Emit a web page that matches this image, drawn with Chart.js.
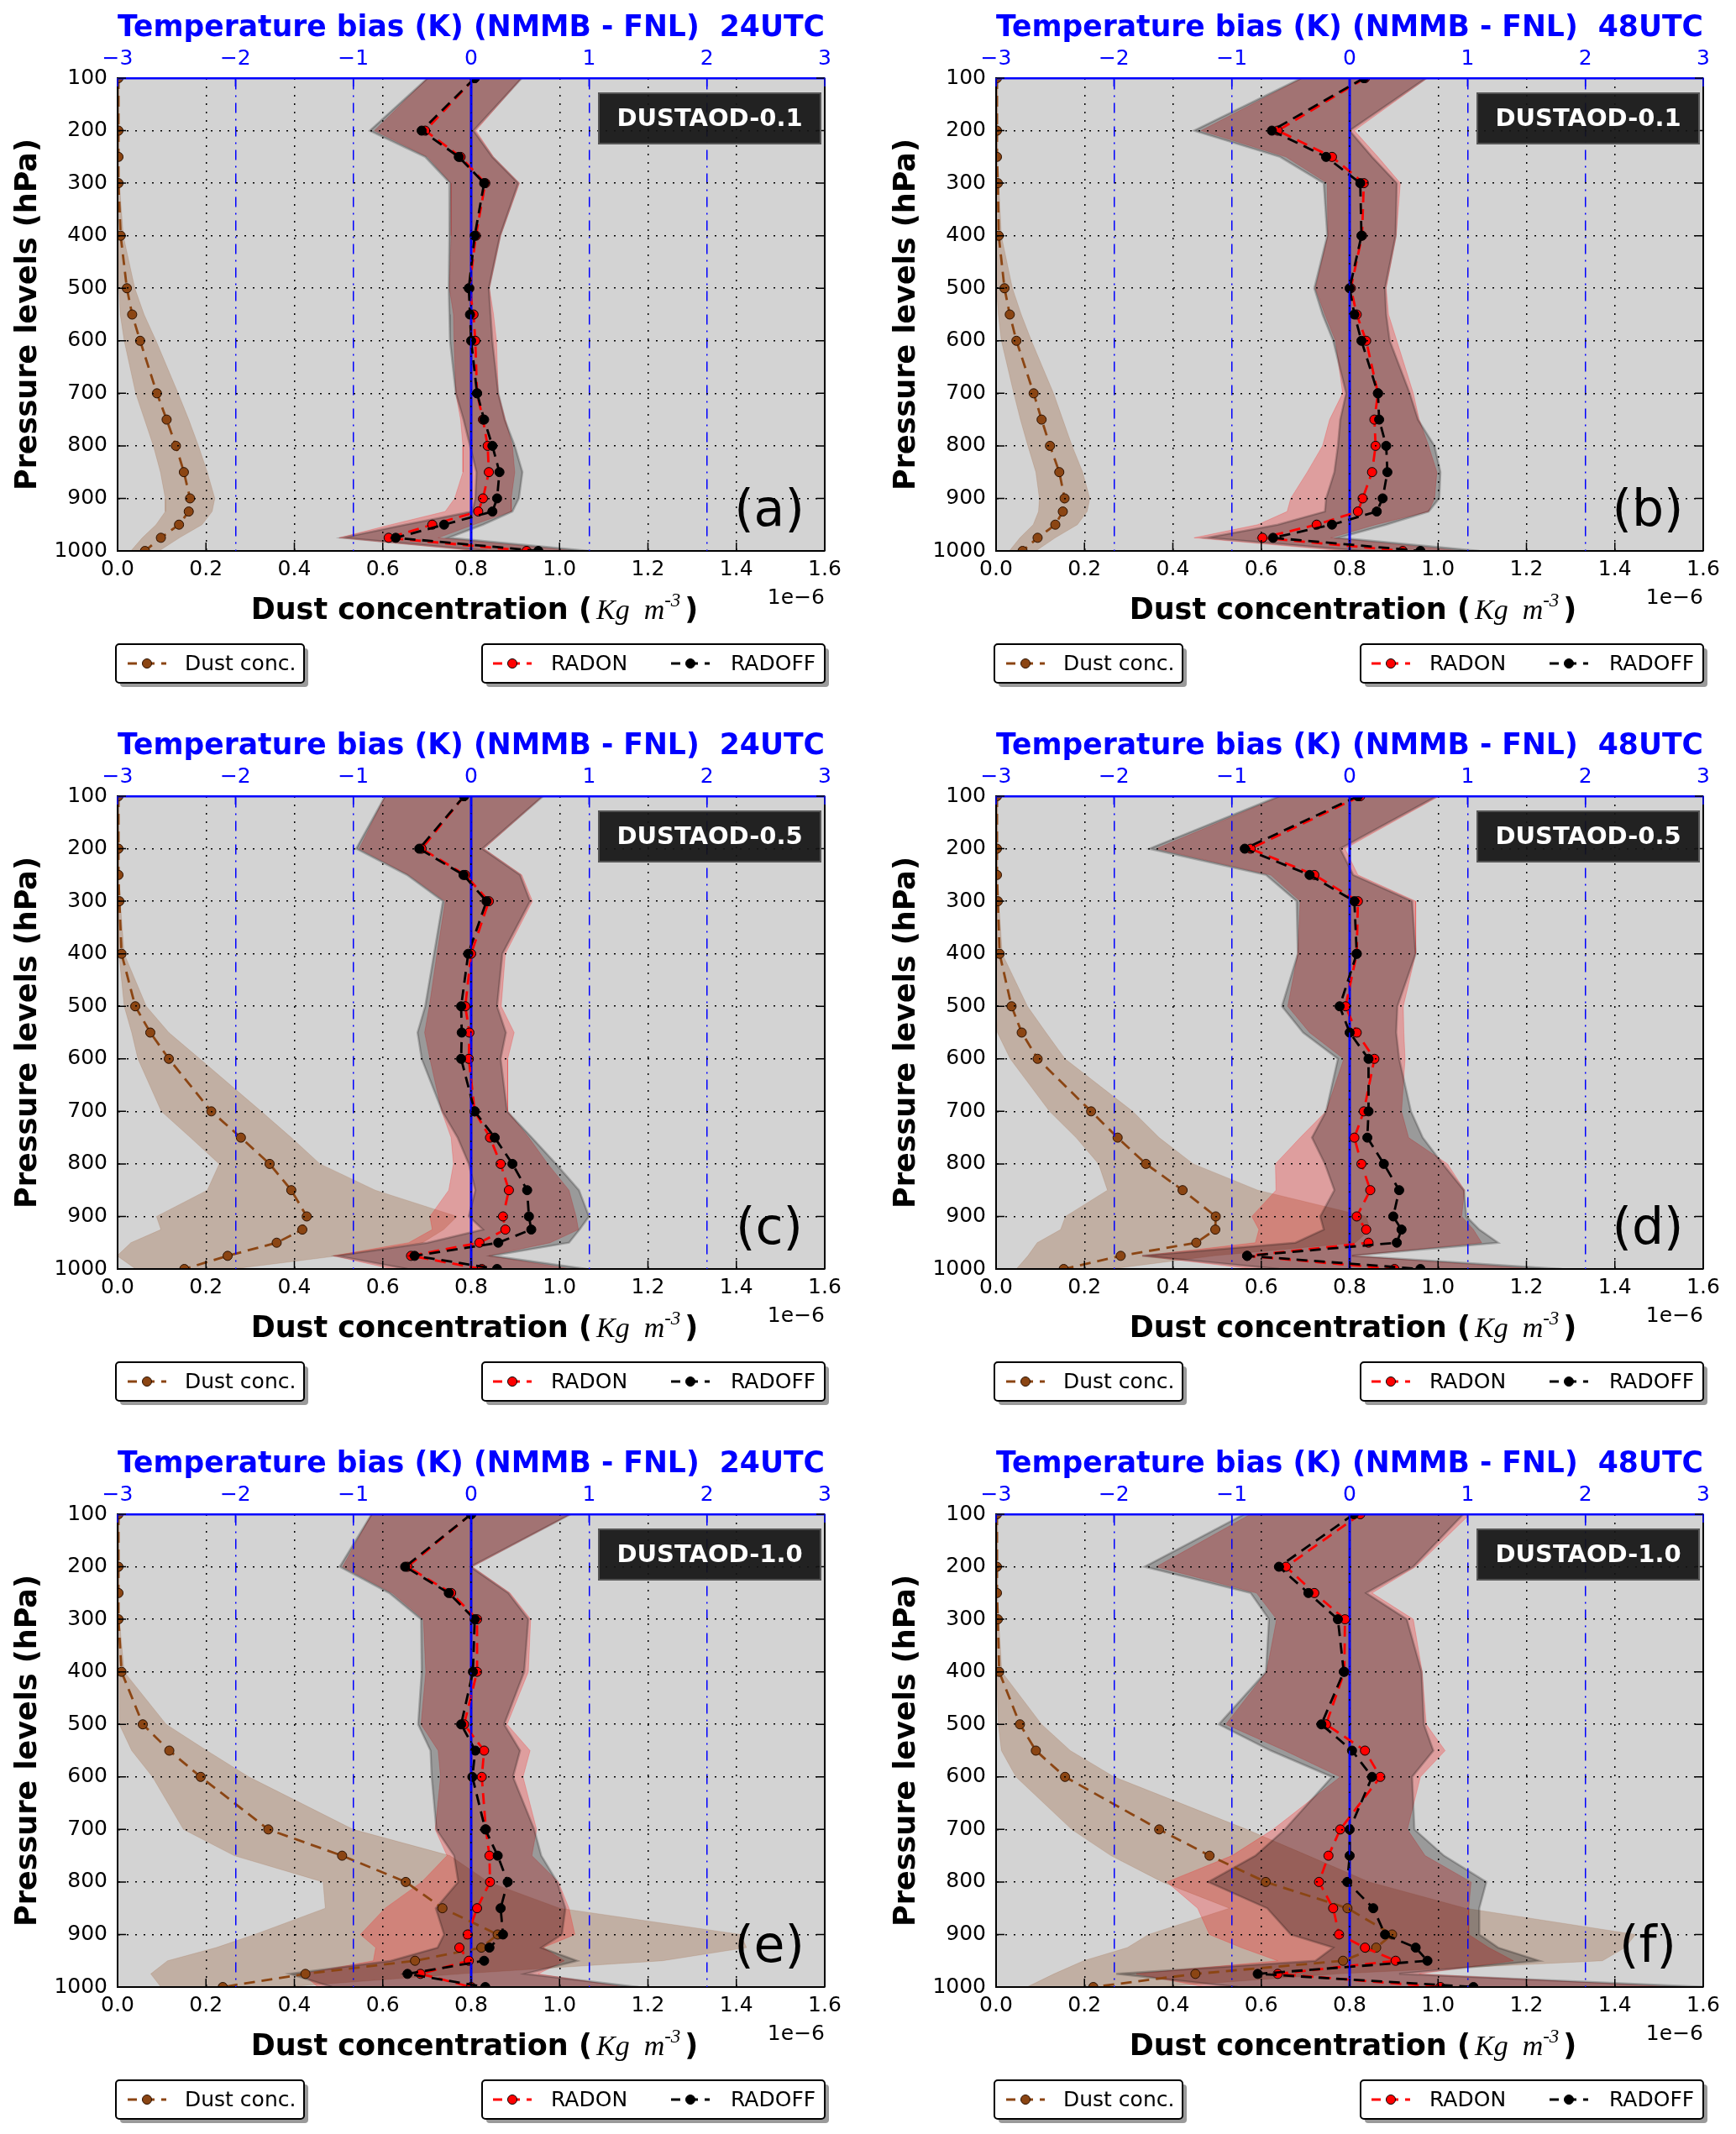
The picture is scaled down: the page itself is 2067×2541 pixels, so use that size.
<!DOCTYPE html>
<html>
<head>
<meta charset="utf-8">
<title>Temperature bias and dust concentration profiles</title>
<script src="https://cdn.jsdelivr.net/npm/chart.js@4.4.0/dist/chart.umd.min.js"></script>
<style>
  html, body { margin: 0; padding: 0; background: #fff; }
  #fig { position: relative; width: 2067px; height: 2541px; overflow: hidden; background: #fff; }
  #fig canvas { position: absolute; }
</style>
</head>
<body>
<div id="fig"></div>
<script>
// pressure levels (hPa), shared by every panel
const levels = [100, 200, 250, 300, 400, 500, 550, 600, 700, 750, 800, 850, 900, 925, 950, 975, 1000];

// dust concentration, in units of 1e-6 Kg m-3 (mean and spread)
const dustA   = [0.002,0.002,0.002,0.002,0.007,0.021,0.033,0.051,0.089,0.111,0.132,0.150,0.164,0.161,0.139,0.098,0.062];
const dustSdA = [0.001,0.001,0.001,0.002,0.006,0.018,0.027,0.036,0.048,0.050,0.051,0.053,0.056,0.053,0.052,0.042,0.032];
const dustB   = [0.002,0.002,0.002,0.004,0.006,0.019,0.031,0.046,0.085,0.103,0.122,0.143,0.155,0.151,0.134,0.094,0.060];
const dustSdB = [0.001,0.001,0.001,0.002,0.006,0.018,0.026,0.034,0.045,0.048,0.050,0.053,0.057,0.055,0.050,0.040,0.030];
const dustC   = [0.002,0.002,0.002,0.004,0.009,0.040,0.074,0.116,0.212,0.279,0.344,0.393,0.428,0.418,0.360,0.249,0.151];
const dustSdC = [0.001,0.001,0.001,0.002,0.006,0.025,0.042,0.070,0.113,0.114,0.114,0.190,0.340,0.320,0.330,0.250,0.110];
const dustD   = [0.002,0.002,0.002,0.004,0.008,0.035,0.058,0.094,0.215,0.275,0.339,0.422,0.497,0.496,0.453,0.282,0.153];
const dustSdD = [0.001,0.001,0.001,0.002,0.006,0.036,0.055,0.062,0.094,0.094,0.107,0.170,0.340,0.350,0.360,0.210,0.107];
const dustE   = [0.002,0.002,0.002,0.002,0.009,0.057,0.117,0.188,0.341,0.508,0.652,0.735,0.860,0.823,0.673,0.425,0.238];
const dustSdE = [0.001,0.001,0.001,0.002,0.006,0.053,0.085,0.109,0.192,0.244,0.187,0.265,0.550,0.600,0.560,0.350,0.140];
const dustF   = [0.002,0.002,0.002,0.004,0.007,0.054,0.090,0.156,0.369,0.483,0.610,0.795,0.896,0.860,0.785,0.451,0.220];
const dustSdF = [0.001,0.001,0.001,0.002,0.006,0.049,0.078,0.111,0.198,0.223,0.234,0.267,0.551,0.563,0.587,0.320,0.150];

// temperature bias (K), NMMB - FNL, with radiation (RADON) and without (RADOFF)
const radonA    = [0.03,-0.39,-0.09,0.12,0.04,-0.015,0.02,0.035,0.05,0.10,0.14,0.15,0.10,0.06,-0.33,-0.70,0.47];
const radonSdA  = [0.40,0.43,0.28,0.29,0.21,0.17,0.17,0.18,0.18,0.19,0.21,0.22,0.24,0.28,0.35,0.42,0.42];
const radoffA   = [0.03,-0.42,-0.105,0.11,0.03,-0.02,-0.01,0.0,0.05,0.11,0.18,0.24,0.22,0.18,-0.23,-0.64,0.57];
const radoffSdA = [0.40,0.44,0.285,0.29,0.215,0.17,0.175,0.18,0.18,0.175,0.19,0.195,0.185,0.17,0.33,0.45,0.43];

const radonB    = [0.13,-0.61,-0.15,0.12,0.105,0.01,0.06,0.14,0.24,0.21,0.22,0.19,0.11,0.07,-0.28,-0.74,0.45];
const radonSdB  = [0.53,0.65,0.39,0.31,0.29,0.30,0.27,0.26,0.30,0.38,0.45,0.55,0.61,0.60,0.50,0.58,0.50];
const radoffB   = [0.12,-0.66,-0.20,0.09,0.10,0.0,0.04,0.10,0.24,0.25,0.31,0.32,0.28,0.23,-0.15,-0.65,0.60];
const radoffSdB = [0.53,0.66,0.39,0.31,0.29,0.30,0.27,0.24,0.27,0.33,0.41,0.45,0.48,0.44,0.46,0.56,0.50];

const radonC    = [-0.06,-0.42,-0.05,0.15,0.0,-0.05,-0.015,-0.02,0.03,0.16,0.25,0.32,0.27,0.29,0.07,-0.51,0.09];
const radonSdC  = [0.67,0.53,0.48,0.37,0.29,0.305,0.38,0.33,0.28,0.33,0.40,0.51,0.62,0.62,0.60,0.66,0.76];
const radoffC   = [-0.06,-0.44,-0.065,0.13,-0.025,-0.085,-0.08,-0.085,0.03,0.20,0.35,0.475,0.49,0.51,0.23,-0.48,0.22];
const radoffSdC = [0.67,0.535,0.48,0.37,0.29,0.305,0.375,0.335,0.275,0.315,0.37,0.44,0.51,0.41,0.60,0.66,0.76];

const radonD    = [0.09,-0.84,-0.30,0.07,0.06,-0.035,0.06,0.21,0.12,0.04,0.10,0.175,0.06,0.14,0.16,-0.87,0.38];
const radonSdD  = [0.67,0.80,0.37,0.49,0.50,0.49,0.40,0.26,0.32,0.46,0.73,0.80,0.89,0.91,0.96,0.89,1.20];
const radoffD   = [0.07,-0.89,-0.34,0.04,0.06,-0.085,0.0,0.16,0.16,0.15,0.29,0.42,0.37,0.44,0.40,-0.87,0.60];
const radoffSdD = [0.67,0.81,0.37,0.49,0.50,0.49,0.395,0.26,0.36,0.47,0.50,0.55,0.62,0.66,0.86,0.89,1.20];

const radonE    = [0.0,-0.54,-0.17,0.05,0.05,-0.06,0.11,0.09,0.125,0.155,0.16,0.05,-0.03,-0.10,-0.02,-0.43,0.0];
const radonSdE  = [0.845,0.55,0.50,0.455,0.435,0.365,0.39,0.35,0.43,0.36,0.58,0.78,0.91,0.71,0.81,1.00,1.30];
const radoffE   = [0.0,-0.56,-0.19,0.03,0.015,-0.085,0.035,0.01,0.12,0.225,0.31,0.25,0.27,0.155,0.11,-0.54,0.12];
const radoffSdE = [0.845,0.555,0.505,0.455,0.435,0.365,0.38,0.345,0.415,0.37,0.42,0.55,0.50,0.44,0.79,1.00,1.30];

const radonF    = [0.09,-0.54,-0.30,-0.04,-0.045,-0.20,0.13,0.26,-0.08,-0.18,-0.26,-0.14,-0.09,0.13,0.39,-0.61,0.77];
const radonSdF  = [0.93,1.10,0.49,0.58,0.66,0.85,0.68,0.34,0.57,0.82,1.29,1.15,1.10,1.05,1.00,1.20,2.00];
const radoffF   = [0.035,-0.60,-0.35,-0.10,-0.05,-0.24,0.02,0.19,0.0,0.0,-0.02,0.20,0.30,0.56,0.66,-0.78,1.05];
const radoffSdF = [0.93,1.14,0.49,0.585,0.66,0.87,0.69,0.34,0.55,0.80,1.18,0.90,0.80,0.70,0.95,1.20,2.00];

const zeroBias = 0;
const hours = ['24UTC', '48UTC'];
const aodLabels = ['DUSTAOD-0.1', 'DUSTAOD-0.5', 'DUSTAOD-1.0'];
const panelTags = ['(a)', '(b)', '(c)', '(d)', '(e)', '(f)'];

const panels = [
  {dust: dustA, dustSd: dustSdA, on: radonA, onSd: radonSdA, off: radoffA, offSd: radoffSdA},
  {dust: dustB, dustSd: dustSdB, on: radonB, onSd: radonSdB, off: radoffB, offSd: radoffSdB},
  {dust: dustC, dustSd: dustSdC, on: radonC, onSd: radonSdC, off: radoffC, offSd: radoffSdC},
  {dust: dustD, dustSd: dustSdD, on: radonD, onSd: radonSdD, off: radoffD, offSd: radoffSdD},
  {dust: dustE, dustSd: dustSdE, on: radonE, onSd: radonSdE, off: radoffE, offSd: radoffSdE},
  {dust: dustF, dustSd: dustSdF, on: radonF, onSd: radonSdF, off: radoffF, offSd: radoffSdF}
];

// page layout
const COL_X = [0, 1046], COL_W = [1046, 1021];
const ROW_Y = [0, 855, 1710], ROW_H = [855, 855, 831];
const AREA = {left: 140, top: 93, right: 982, bottom: 656};

Chart.defaults.font.family = "'DejaVu Sans', sans-serif";
Chart.defaults.color = '#000';

const FONT = "'DejaVu Sans'";

function profile(vals) {
  return vals.map((v, i) => ({x: v, y: levels[i]}));
}
function edgeOf(vals, sd, sign) {
  return vals.map((v, i) => ({x: v + sign * sd[i], y: levels[i]}));
}
const atEnds = (c, a, b) => c.tick && (Math.abs(c.tick.value - a) < 1e-9 || Math.abs(c.tick.value - b) < 1e-9);

function drawSample(ctx, ds, x1, x2, y) {
  ctx.save();
  ctx.strokeStyle = ds.borderColor;
  ctx.lineWidth = ds.borderWidth;
  ctx.setLineDash(ds.borderDash);
  ctx.lineDashOffset = 2;
  ctx.beginPath(); ctx.moveTo(x1, y); ctx.lineTo(x2, y); ctx.stroke();
  ctx.setLineDash([]);
  ctx.beginPath();
  ctx.arc((x1 + x2) / 2, y, ds.pointRadius, 0, Math.PI * 2);
  ctx.fillStyle = ds.pointBackgroundColor; ctx.fill();
  ctx.lineWidth = ds.pointBorderWidth; ctx.strokeStyle = ds.pointBorderColor; ctx.stroke();
  ctx.restore();
}

function legendBox(ctx, x, y, w, h) {
  ctx.save();
  ctx.fillStyle = '#9a9a9a';
  ctx.beginPath(); ctx.roundRect(x + 5, y + 5, w, h, 4); ctx.fill();
  ctx.fillStyle = '#fff';
  ctx.strokeStyle = '#000';
  ctx.lineWidth = 2;
  ctx.beginPath(); ctx.roundRect(x, y, w, h, 4); ctx.fill(); ctx.stroke();
  ctx.restore();
}

function decor(idx) {
  return {
    id: 'decor',
    beforeDraw(chart) {
      const {ctx, chartArea: a} = chart;
      ctx.save();
      ctx.fillStyle = '#d3d3d3';
      ctx.fillRect(a.left, a.top, a.right - a.left, a.bottom - a.top);
      ctx.restore();
    },
    afterDraw(chart) {
      const {ctx, chartArea: a, scales} = chart;
      const sets = chart.data.datasets;
      ctx.save();
      // right spine
      ctx.strokeStyle = '#000'; ctx.lineWidth = 2;
      ctx.beginPath(); ctx.moveTo(a.right, a.top); ctx.lineTo(a.right, a.bottom); ctx.stroke();
      // inward ticks
      ctx.lineWidth = 1.5;
      ctx.beginPath();
      scales.x.ticks.forEach(t => {
        const px = scales.x.getPixelForValue(t.value);
        ctx.moveTo(px, a.bottom); ctx.lineTo(px, a.bottom - 10);
      });
      scales.y.ticks.forEach(t => {
        const py = scales.y.getPixelForValue(t.value);
        ctx.moveTo(a.left, py); ctx.lineTo(a.left + 10, py);
        ctx.moveTo(a.right, py); ctx.lineTo(a.right - 10, py);
      });
      ctx.stroke();
      ctx.strokeStyle = '#0000ff';
      ctx.beginPath();
      scales.xT.ticks.forEach(t => {
        const px = scales.xT.getPixelForValue(t.value);
        ctx.moveTo(px, a.top); ctx.lineTo(px, a.top + 10);
      });
      ctx.stroke();

      // offset text of the dust axis
      ctx.fillStyle = '#000';
      ctx.font = '25px ' + FONT;
      ctx.textAlign = 'right'; ctx.textBaseline = 'middle';
      ctx.fillText('1e\u22126', a.right, a.bottom + 56);

      // bottom axis title, mixed styles
      const parts = [
        {t: 'Dust concentration (', f: 'bold 35px ' + FONT, dy: 0},
        {t: 'Kg  m', f: "italic 34px 'Liberation Serif'", dy: 0},
        {t: '-3', f: "italic 23px 'Liberation Serif'", dy: -15},
        {t: ')', f: 'bold 35px ' + FONT, dy: 0}
      ];
      let total = 0;
      parts.forEach(p => { ctx.font = p.f; p.w = ctx.measureText(p.t).width; total += p.w; });
      total += 10;
      let x = (a.left + a.right) / 2 + 4 - total / 2;
      const base = a.bottom + 81;
      ctx.textAlign = 'left'; ctx.textBaseline = 'alphabetic';
      parts.forEach((p, i) => {
        ctx.font = p.f;
        ctx.fillText(p.t, x, base + p.dy);
        x += p.w + (i === 0 ? 5 : i === 2 ? 5 : 0);
      });

      // panel tag
      ctx.font = '60px ' + FONT;
      ctx.textAlign = 'center';
      ctx.fillText(panelTags[idx], a.left + 776, a.top + 533);

      // AOD label box
      ctx.fillStyle = 'rgba(20,20,20,0.93)';
      ctx.strokeStyle = '#555';
      ctx.lineWidth = 2;
      ctx.beginPath(); ctx.rect(a.left + 573, a.top + 18, 264, 60); ctx.fill(); ctx.stroke();
      ctx.fillStyle = '#fff';
      ctx.font = 'bold 29px ' + FONT;
      ctx.textBaseline = 'middle';
      ctx.fillText(aodLabels[Math.floor(idx / 2)], a.left + 705, a.top + 49);

      // legends
      const ly = a.bottom + 111, lh = 46, cy = ly + lh / 2;
      legendBox(ctx, a.left - 2, ly, 224, lh);
      legendBox(ctx, a.left + 434, ly, a.right - a.left - 434, lh);
      drawSample(ctx, sets[7], a.left + 12, a.left + 58, cy);
      drawSample(ctx, sets[8], a.left + 447, a.left + 493, cy);
      drawSample(ctx, sets[9], a.left + 659, a.left + 705, cy);
      ctx.fillStyle = '#000';
      ctx.font = '25px ' + FONT;
      ctx.textAlign = 'left'; ctx.textBaseline = 'middle';
      ctx.fillText(sets[7].label, a.left + 80, cy + 1);
      ctx.fillText(sets[8].label, a.left + 516, cy + 1);
      ctx.fillText(sets[9].label, a.left + 730, cy + 1);
      ctx.restore();
    }
  };
}

const fig = document.getElementById('fig');

panels.forEach((p, idx) => {
  const col = idx % 2, row = Math.floor(idx / 2);
  const W = COL_W[col], H = ROW_H[row];
  const cv = document.createElement('canvas');
  cv.width = W; cv.height = H;
  cv.style.left = COL_X[col] + 'px';
  cv.style.top = ROW_Y[row] + 'px';
  cv.style.width = W + 'px';
  cv.style.height = H + 'px';
  fig.appendChild(cv);

  const dash = [13, 8];
  const datasets = [
    {label: 'dust low', data: edgeOf(p.dust, p.dustSd, -1), xAxisID: 'x', fill: '+1',
     backgroundColor: 'rgba(139,69,19,0.25)', borderColor: 'rgba(139,69,19,0.15)', borderWidth: 1, pointRadius: 0, order: 10},
    {label: 'dust high', data: edgeOf(p.dust, p.dustSd, 1), xAxisID: 'x', fill: false,
     borderColor: 'rgba(139,69,19,0.15)', borderWidth: 1, pointRadius: 0, order: 9},
    {label: 'on low', data: edgeOf(p.on, p.onSd, -1), xAxisID: 'xT', fill: '+1',
     backgroundColor: 'rgba(255,0,0,0.25)', borderColor: 'rgba(255,0,0,0.2)', borderWidth: 1, pointRadius: 0, order: 8},
    {label: 'on high', data: edgeOf(p.on, p.onSd, 1), xAxisID: 'xT', fill: false,
     borderColor: 'rgba(255,0,0,0.2)', borderWidth: 1, pointRadius: 0, order: 7},
    {label: 'off low', data: edgeOf(p.off, p.offSd, -1), xAxisID: 'xT', fill: '+1',
     backgroundColor: 'rgba(0,0,0,0.27)', borderColor: 'rgba(0,0,0,0.22)', borderWidth: 2.5, pointRadius: 0, order: 6},
    {label: 'off high', data: edgeOf(p.off, p.offSd, 1), xAxisID: 'xT', fill: false,
     borderColor: 'rgba(0,0,0,0.22)', borderWidth: 2.5, pointRadius: 0, order: 5},
    {label: 'zero', data: [{x: zeroBias, y: levels[0]}, {x: zeroBias, y: levels[levels.length - 1]}], xAxisID: 'xT',
     borderColor: '#0000ff', borderWidth: 3, pointRadius: 0, fill: false, order: 4},
    {label: 'Dust conc.', data: profile(p.dust), xAxisID: 'x', fill: false,
     borderColor: '#8b4513', borderWidth: 2.8, borderDash: dash,
     pointRadius: 5.5, pointBackgroundColor: '#8b4513', pointBorderColor: '#2a1000', pointBorderWidth: 1, order: 3},
    {label: 'RADON', data: profile(p.on), xAxisID: 'xT', fill: false,
     borderColor: '#ff0000', borderWidth: 2.8, borderDash: dash,
     pointRadius: 5.5, pointBackgroundColor: '#ff0000', pointBorderColor: '#000', pointBorderWidth: 1, order: 2},
    {label: 'RADOFF', data: profile(p.off), xAxisID: 'xT', fill: false,
     borderColor: '#000', borderWidth: 2.8, borderDash: dash,
     pointRadius: 5.5, pointBackgroundColor: '#000', pointBorderColor: '#000', pointBorderWidth: 1, order: 1}
  ];
  datasets.forEach(d => { d.clip = 0; d.tension = 0; d.yAxisID = 'y'; });

  new Chart(cv, {
    type: 'line',
    data: {datasets},
    options: {
      indexAxis: 'y',
      responsive: false,
      animation: false,
      events: [],
      layout: {padding: {left: 0, top: 0, right: W - AREA.right, bottom: 0}},
      plugins: {legend: {display: false}, tooltip: {enabled: false}},
      scales: {
        x: {
          type: 'linear', position: 'bottom', min: 0, max: 1.6,
          afterFit: s => { s.height = H - AREA.bottom; },
          ticks: {stepSize: 0.2, color: '#000', font: {size: 25}, padding: 7, maxRotation: 0, autoSkip: false,
                  callback: v => v.toFixed(1)},
          grid: {color: c => atEnds(c, 0, 1.6) ? 'rgba(0,0,0,0)' : '#000', lineWidth: 1.5, drawTicks: false, z: 1},
          border: {display: true, color: '#000', width: 2, dash: [2, 8], z: 1}
        },
        xT: {
          type: 'linear', position: 'top', axis: 'x', min: -3, max: 3,
          afterFit: s => { s.height = AREA.top; },
          ticks: {stepSize: 1, color: '#0000ff', font: {size: 25}, padding: 8, maxRotation: 0, autoSkip: false,
                  callback: v => v < 0 ? '\u2212' + (-v) : String(v)},
          grid: {color: c => atEnds(c, -3, 3) ? 'rgba(0,0,0,0)' : '#0000ff', lineWidth: 1.5, drawTicks: false, z: 1},
          border: {display: true, color: '#0000ff', width: 2.5, dash: [12, 7, 2, 7], z: 1},
          title: {display: true, text: 'Temperature bias (K) (NMMB - FNL)  ' + hours[col], color: '#0000ff',
                  font: {size: 36, weight: 'bold'}, padding: {top: 12, bottom: 0}}
        },
        y: {
          type: 'linear', position: 'left', reverse: true, min: 100, max: 1000,
          afterFit: s => { s.width = AREA.left; },
          ticks: {stepSize: 100, color: '#000', font: {size: 25}, padding: 12, autoSkip: false,
                  callback: v => String(v)},
          grid: {color: c => atEnds(c, 100, 1000) ? 'rgba(0,0,0,0)' : '#000', lineWidth: 1.5, drawTicks: false, z: 1},
          border: {display: true, color: '#000', width: 2, dash: [2, 8], z: 1},
          title: {display: true, text: 'Pressure levels (hPa)', color: '#000',
                  font: {size: 35, weight: 'bold'}, padding: {top: 13, bottom: 0}}
        }
      }
    },
    plugins: [decor(idx)]
  });
});
</script>
</body>
</html>
